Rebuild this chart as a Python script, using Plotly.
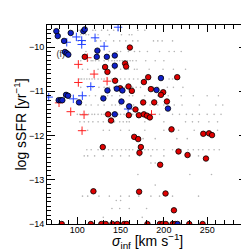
import plotly.graph_objects as go

# ---- data ----
blue_circ_x = [75.8, 77.4, 92.4, 84.7, 107.0, 108.6, 85.8, 87.8, 89.6, 123.2, 122.5, 134.1, 143.3, 143.3,
               134.8, 145.6, 152.1, 191.5, 196.6, 78.5, 80.9, 82.7, 87.0, 89.3, 102.0, 130.1, 151.0,
               159.9, 204.7, 143.3, 215.8]
blue_circ_y = [-9.64, -9.75, -9.68, -9.86, -9.64, -9.60, -10.11, -10.14, -10.17, -10.08, -10.22, -10.22,
               -10.19, -10.42, -10.98, -10.94, -10.98, -10.97, -10.70, -11.20, -11.20, -11.20, -11.08,
               -11.10, -11.25, -11.16, -11.23, -11.34, -11.39, -11.52, -14.0]

red_circ_x = [108.6, 160.7, 132.1, 134.8, 155.2, 156.4, 143.7, 181.9, 176.9, 215.4, 149.5, 159.1, 163.0,
              185.0, 199.2, 196.6, 176.1, 188.8, 203.5, 167.2, 159.5, 171.1, 176.9, 180.4, 183.8, 135.6,
              139.0, 208.8, 245.5, 252.1, 255.6, 165.7, 170.3, 173.4, 171.8, 216.9, 227.3, 248.6, 129.4,
              195.7, 118.6, 171.4, 201.9, 211.6,
              82.0, 115.6, 127.8, 132.9, 140.6, 146.3, 154.1, 157.2, 181.0, 195.4, 198.4, 202.3, 210.0,
              213.1, 229.3, 244.7]
red_circ_y = [-10.22, -10.01, -10.45, -10.56, -10.37, -10.44, -10.76, -10.68, -10.79, -10.68, -10.93,
              -10.89, -10.99, -10.95, -11.02, -11.08, -11.25, -11.25, -11.23, -11.41, -11.54, -11.54,
              -11.52, -11.55, -11.59, -11.52, -11.66, -11.86, -11.96, -11.95, -11.99, -12.03, -12.08,
              -12.26, -12.39, -12.36, -12.44, -12.52, -12.26, -12.66, -13.26, -13.27, -13.31, -13.69,
              -14.0, -14.0, -14.0, -14.0, -14.0, -14.0, -14.0, -14.0, -14.0, -14.0, -14.0, -14.0, -14.0,
              -14.0, -14.0, -14.0]

red_plus_x = [111.6, 101.2, 119.4, 101.2, 134.4, 78.9, 92.4, 107.8, 105.5, 185.7]
red_plus_y = [-10.24, -10.39, -10.61, -10.80, -10.77, -11.26, -11.46, -11.53, -11.89, -11.52]

blue_plus_x = [87.8, 98.9, 105.1, 120.5, 105.1, 131.0, 147.1, 115.6, 95.4, 105.8, 158.7, 67.0]
blue_plus_y = [-9.89, -9.77, -9.85, -9.79, -9.94, -9.98, -9.55, -10.89, -11.17, -11.10, -11.40, -11.13]

# background sample (grey dots), one list of sigma values per sSFR row
bg_rows = {
    -9.62: [102, 108, 118, 121, 128, 135, 142, 147, 170, 178],
    -9.72: [104, 110, 113, 124, 137, 151, 160, 163],
    -9.86: [101, 106, 109, 122, 127, 133, 142, 149, 156, 164, 170, 188, 193, 198, 210],
    -10.10: [110, 121, 124, 137, 146, 150, 159, 166, 172, 181, 195, 206, 212, 220],
    -10.31: [104, 112, 116, 118, 121, 125, 131, 136, 140, 143, 146, 149, 152, 155, 158, 161, 164, 168,
             179, 190, 200],
    -10.50: [106, 112, 124, 130, 143, 150, 155, 159, 166, 169, 183, 199, 211, 225],
    -10.72: [103, 105, 108, 111, 114, 117, 120, 124, 128, 131, 135, 140, 145, 150, 155, 160, 165, 170,
             178, 181, 184, 206, 210, 213, 216],
    -10.91: [104, 112, 118, 125, 131, 137, 142, 148, 151, 155, 160, 164, 168, 173, 183, 188, 193, 204,
             211, 222],
    -11.10: [102, 110, 114, 121, 128, 135, 140, 149, 160, 164, 178, 193, 205, 220, 234, 250, 263],
    -11.31: [104, 110, 116, 124, 131, 140, 144, 149, 158, 165, 175, 184, 193, 200, 212, 221, 241, 260,
             268],
    -11.52: [100, 103, 106, 110, 113, 117, 120, 124, 128, 131, 135, 139, 143, 147, 150, 154, 157, 161,
             164, 168, 172, 176, 180, 185, 190, 195, 210, 218, 226, 233, 241, 250, 258, 266],
    -11.69: [103, 108, 113, 118, 124, 130, 136, 143, 149, 153, 157, 160, 178, 200, 225, 233, 240, 252,
             262],
    -11.88: [105, 112, 130, 137, 150, 160, 178, 200, 217, 235, 262],
    -12.07: [176, 190, 215, 227],
    -12.32: [111, 116, 124, 128, 131, 136, 141, 146, 151, 156, 160, 164, 170, 174, 178, 182, 187, 192,
             200, 210, 215, 220, 228, 234, 240, 245, 252, 258, 264],
    -12.46: [108, 112, 120, 130, 140, 150, 160, 172, 185, 200, 230, 240],
    -12.62: [185, 190],
    -12.88: [170, 230, 255],
    -13.12: [190],
    -13.37: [106, 112, 125, 137, 150, 160, 171, 185, 195, 210, 240],
    -13.47: [145, 150],
    -13.65: [140, 149, 160, 180],
    -13.85: [130, 175],
}

x_ticks = [100, 150, 200, 250]
y_ticks = [-14, -13, -12, -11, -10]
panel_label = "(f)"
panel_pos = (81.0, -10.17)
x_title = "<i>σ</i><sub>inf</sub> [km s<sup>−1</sup>]"
y_title = "log sSFR [yr<sup>−1</sup>]"

# ---- figure ----
bg_x, bg_y = [], []
for yv, xs in bg_rows.items():
    bg_x += xs
    bg_y += [yv] * len(xs)

fig = go.Figure()
fig.add_trace(go.Scatter(x=bg_x, y=bg_y, mode="markers",
                         marker=dict(size=1.6, color="#b4b4b4", line=dict(width=0))))
fig.add_trace(go.Scatter(x=[panel_pos[0]], y=[panel_pos[1]], mode="text", text=[panel_label],
                         textfont=dict(size=9, color="#333333", family="Liberation Sans")))
fig.add_trace(go.Scatter(x=red_plus_x, y=red_plus_y, mode="markers",
                         marker=dict(symbol="cross-thin", size=6, line=dict(width=1, color="#ff2020"))))
fig.add_trace(go.Scatter(x=blue_plus_x, y=blue_plus_y, mode="markers",
                         marker=dict(symbol="cross-thin", size=6, line=dict(width=1, color="#2040ff"))))
fig.add_trace(go.Scatter(x=red_circ_x, y=red_circ_y, mode="markers",
                         marker=dict(size=5.5, color="#e00000", line=dict(width=0.8, color="black"))))
fig.add_trace(go.Scatter(x=blue_circ_x, y=blue_circ_y, mode="markers",
                         marker=dict(size=5.5, color="#1020c8", line=dict(width=0.8, color="black"))))

axis_common = dict(showline=True, linecolor="black", linewidth=1, mirror="allticks",
                   ticks="inside", tickcolor="black", showgrid=False, zeroline=False,
                   automargin=False,
                   tickfont=dict(size=9, family="Liberation Sans", color="black"))

fig.update_xaxes(range=[65, 296], tickvals=x_ticks, ticklen=7, tickwidth=1, ticklabelstandoff=-3,
                 minor=dict(dtick=10, tick0=0, ticklen=4, ticks="inside", tickcolor="black", showgrid=False),
                 **axis_common)
fig.update_yaxes(range=[-14, -9.5], tickvals=y_ticks, ticklen=8, tickwidth=1,
                 minor=dict(dtick=0.1, tick0=0, ticklen=4, ticks="inside", tickcolor="black", showgrid=False),
                 **axis_common)

fig.update_layout(width=249, height=249, margin=dict(l=39, r=10, t=17, b=33, autoexpand=False),
                  plot_bgcolor="white", paper_bgcolor="white", showlegend=False,
                  annotations=[
                      dict(text=x_title, xref="paper", yref="paper", x=0.5, y=-0.085,
                           xanchor="center", yanchor="middle", showarrow=False,
                           font=dict(size=14, family="Liberation Sans", color="black")),
                      dict(text=y_title, xref="paper", yref="paper", x=-0.135, y=0.5,
                           xanchor="center", yanchor="middle", textangle=-90, showarrow=False,
                           font=dict(size=14, family="Liberation Sans", color="black")),
                  ])

fig.write_html("out.html")
